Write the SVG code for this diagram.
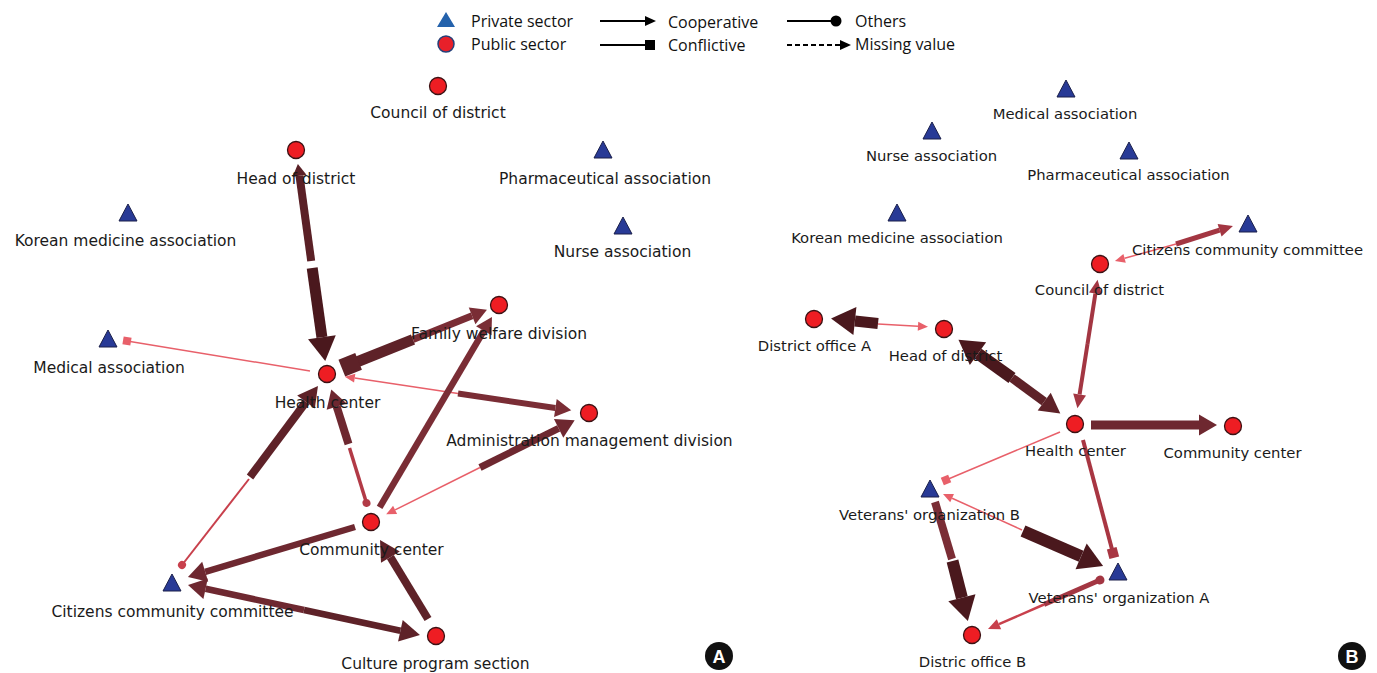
<svg xmlns="http://www.w3.org/2000/svg" width="1377" height="673" viewBox="0 0 1377 673">
<style>
.lbl{font-family:"DejaVu Sans",Verdana,sans-serif;font-size:15.5px;fill:#1a1a1a;text-anchor:middle}
.lblb{font-family:"DejaVu Sans",Verdana,sans-serif;font-size:14.8px;fill:#1a1a1a;text-anchor:middle}
.leg{font-family:"Open Sans","Noto Sans",sans-serif;font-size:16px;fill:#111}
.pub{fill:#ee1d23;stroke:#3b1214;stroke-width:1.3}
.pri{fill:#283a96;stroke:#1a1f4a;stroke-width:1}
.badge{fill:#111}
.badget{font-family:"Liberation Sans",Arial,sans-serif;font-size:18px;font-weight:bold;fill:#fff;text-anchor:middle}
line{fill:none}
.dk{stroke:#4a181d}
.m1{stroke:#5e2228}
.m2{stroke:#6e2830}
.m3{stroke:#7a2d35}
.rd{stroke:#a33642}
.r2{stroke:#c8404c}
.pk{stroke:#e8606a;stroke-width:1.5}
</style>
<defs>
<marker id="aDk" markerUnits="userSpaceOnUse" markerWidth="24" markerHeight="28" refX="0" refY="14" orient="auto" overflow="visible"><path d="M0,0 L24,14 L0,28 z" fill="#4a181d"/></marker>
<marker id="aDs" markerUnits="userSpaceOnUse" markerWidth="12" markerHeight="14" refX="0" refY="7" orient="auto" overflow="visible"><path d="M0,0 L12,7 L0,14 z" fill="#5a2026"/></marker>
<marker id="aM1" markerUnits="userSpaceOnUse" markerWidth="20" markerHeight="22" refX="0" refY="11" orient="auto" overflow="visible"><path d="M0,0 L20,11 L0,22 z" fill="#5e2228"/></marker>
<marker id="aM2" markerUnits="userSpaceOnUse" markerWidth="18" markerHeight="21" refX="0" refY="10.5" orient="auto" overflow="visible"><path d="M0,0 L18,10.5 L0,21 z" fill="#6e2830"/></marker>
<marker id="aM3" markerUnits="userSpaceOnUse" markerWidth="16" markerHeight="18" refX="0" refY="9" orient="auto" overflow="visible"><path d="M0,0 L16,9 L0,18 z" fill="#7a2d35"/></marker>
<marker id="aR" markerUnits="userSpaceOnUse" markerWidth="14" markerHeight="13" refX="0" refY="6.5" orient="auto" overflow="visible"><path d="M0,0 L14,6.5 L0,13 z" fill="#a33642"/></marker>
<marker id="aR2" markerUnits="userSpaceOnUse" markerWidth="12" markerHeight="11" refX="0" refY="5.5" orient="auto" overflow="visible"><path d="M0,0 L12,5.5 L0,11 z" fill="#c8404c"/></marker>
<marker id="aP" markerUnits="userSpaceOnUse" markerWidth="10" markerHeight="9" refX="0" refY="4.5" orient="auto" overflow="visible"><path d="M0,0 L10,4.5 L0,9 z" fill="#e8606a"/></marker>
<marker id="sqM" markerUnits="userSpaceOnUse" markerWidth="18" markerHeight="18" refX="9" refY="9" orient="auto" overflow="visible"><rect x="0" y="0" width="18" height="18" fill="#5e2228"/></marker>
<marker id="sqP" markerUnits="userSpaceOnUse" markerWidth="8" markerHeight="8" refX="4" refY="4" orient="auto" overflow="visible"><rect x="0" y="0" width="8" height="8" fill="#e8606a"/></marker>
<marker id="sqR" markerUnits="userSpaceOnUse" markerWidth="10" markerHeight="10" refX="5" refY="5" orient="auto" overflow="visible"><rect x="0" y="0" width="10" height="10" fill="#a83642"/></marker>
<marker id="dR" markerUnits="userSpaceOnUse" markerWidth="10" markerHeight="10" refX="5" refY="5" orient="auto" overflow="visible"><circle cx="5" cy="5" r="4.5" fill="#a33642"/></marker>
<marker id="dR2" markerUnits="userSpaceOnUse" markerWidth="8" markerHeight="8" refX="4" refY="4" orient="auto" overflow="visible"><circle cx="4" cy="4" r="4" fill="#c8404c"/></marker>
<marker id="dR3" markerUnits="userSpaceOnUse" markerWidth="8" markerHeight="8" refX="4" refY="4" orient="auto" overflow="visible"><circle cx="4" cy="4" r="4" fill="#b23a46"/></marker>
<marker id="lA" markerUnits="userSpaceOnUse" markerWidth="11" markerHeight="10" refX="0" refY="5" orient="auto" overflow="visible"><path d="M0,0 L11,5 L0,10 z" fill="#000"/></marker>
<marker id="lS" markerUnits="userSpaceOnUse" markerWidth="10" markerHeight="10" refX="5" refY="5" orient="auto" overflow="visible"><rect x="0" y="0" width="10" height="10" fill="#000"/></marker>
<marker id="lD" markerUnits="userSpaceOnUse" markerWidth="11" markerHeight="11" refX="5.5" refY="5.5" orient="auto" overflow="visible"><circle cx="5.5" cy="5.5" r="5.5" fill="#000"/></marker>
</defs>
<rect width="1377" height="673" fill="#fff"/>

<g id="legend">
<path d="M446,12 L455,27 L437,27 Z" fill="#2462ac"/>
<text class="leg" x="471" y="27">Private sector</text>
<circle cx="446" cy="44" r="8" fill="#e8202a" stroke="#24407a" stroke-width="1.5"/>
<text class="leg" x="471" y="50">Public sector</text>
<line x1="600" y1="21" x2="645" y2="21" stroke="#000" stroke-width="2" marker-end="url(#lA)"/>
<text class="leg" x="668" y="28">Cooperative</text>
<line x1="600" y1="45" x2="650" y2="45" stroke="#000" stroke-width="2" marker-end="url(#lS)"/>
<text class="leg" x="668" y="51">Conflictive</text>
<line x1="787" y1="21" x2="836" y2="21" stroke="#000" stroke-width="2" marker-end="url(#lD)"/>
<text class="leg" x="855" y="27">Others</text>
<line x1="787" y1="45" x2="840" y2="45" stroke="#000" stroke-width="2" stroke-dasharray="5,3" marker-end="url(#lA)"/>
<text class="leg" x="855" y="50">Missing value</text>
</g>

<g id="connectors">
<!-- Panel A -->
<line class="dk" x1="312.2" y1="268" x2="321.9" y2="337.2" stroke-width="11" marker-end="url(#aDk)"/>
<line x1="311.2" y1="261" x2="299.5" y2="175.8" stroke="#5a2026" stroke-width="8" marker-end="url(#aDs)"/>
<line class="m1" x1="413" y1="339.5" x2="350.2" y2="364.7" stroke-width="11" marker-end="url(#sqM)"/>
<line class="m3" x1="413" y1="339.5" x2="472.1" y2="315.8" stroke-width="7" marker-end="url(#aM3)"/>
<line class="pk" x1="458" y1="393.5" x2="354.7" y2="378.1" marker-end="url(#aP)"/>
<line class="m3" x1="458" y1="393.5" x2="555.4" y2="408" stroke-width="6" marker-end="url(#aM3)"/>
<line class="pk" x1="310" y1="371" x2="127" y2="341" marker-end="url(#sqP)"/>
<line class="m2" x1="348.5" y1="444" x2="336.7" y2="406.6" stroke-width="8" marker-end="url(#aM2)"/>
<line x1="349.5" y1="448" x2="366.5" y2="503" stroke="#b23a46" stroke-width="3.5" marker-end="url(#dR3)"/>
<line class="m3" x1="379.6" y1="507.4" x2="483.8" y2="330.8" stroke-width="6.5" marker-end="url(#aM3)"/>
<line class="m2" x1="480" y1="467.5" x2="558.6" y2="428.3" stroke-width="7" marker-end="url(#aM2)"/>
<line class="pk" x1="480" y1="467.5" x2="395.1" y2="509.9" marker-end="url(#aP)"/>
<line class="m1" x1="250" y1="477" x2="306" y2="402" stroke-width="8" marker-end="url(#aM1)"/>
<line class="r2" x1="249" y1="479" x2="182" y2="565" stroke-width="2" marker-end="url(#dR2)"/>
<line class="m2" x1="355" y1="527" x2="205.2" y2="571.8" stroke-width="6.5" marker-end="url(#aM2)"/>
<line class="m2" x1="304" y1="610" x2="205.6" y2="588.8" stroke-width="6.5" marker-end="url(#aM2)"/>
<line class="m1" x1="304" y1="610" x2="400.4" y2="630.8" stroke-width="6.5" marker-end="url(#aM1)"/>
<line class="m1" x1="428" y1="619" x2="390.4" y2="557.1" stroke-width="8" marker-end="url(#aM1)"/>
<!-- Panel B -->
<line class="dk" x1="878" y1="323.5" x2="854.9" y2="321" stroke-width="11" marker-end="url(#aDk)"/>
<line class="pk" x1="878" y1="324" x2="918" y2="326.3" marker-end="url(#aP)"/>
<line class="dk" x1="1012" y1="378" x2="978" y2="353.7" stroke-width="12" marker-end="url(#aDk)"/>
<line class="m1" x1="1012" y1="378" x2="1044.2" y2="401.7" stroke-width="9" marker-end="url(#aM1)"/>
<line class="rd" x1="1087.5" y1="344" x2="1095.4" y2="293.6" stroke-width="4" marker-end="url(#aR)"/>
<line class="rd" x1="1087.5" y1="344" x2="1079.6" y2="394.4" stroke-width="4" marker-end="url(#aR)"/>
<line class="rd" x1="1176" y1="244" x2="1219.6" y2="230.2" stroke-width="5" marker-end="url(#aR)"/>
<line class="pk" x1="1176" y1="244" x2="1124.6" y2="258.3" marker-end="url(#aP)"/>
<line class="m2" x1="1091" y1="425" x2="1199" y2="425" stroke-width="9" marker-end="url(#aM2)"/>
<line class="pk" x1="1060" y1="432" x2="946" y2="480" marker-end="url(#sqP)"/>
<line x1="1083" y1="440" x2="1113" y2="553" stroke="#a83642" stroke-width="4" marker-end="url(#sqR)"/>
<line class="pk" x1="1022" y1="530" x2="952.1" y2="498.2" marker-end="url(#aP)"/>
<line class="dk" x1="1023" y1="531" x2="1081.1" y2="556.3" stroke-width="12" marker-end="url(#aDk)"/>
<line class="m3" x1="952" y1="559" x2="935" y2="502" stroke-width="8"/>
<line class="dk" x1="952.5" y1="561" x2="961.9" y2="597.8" stroke-width="12" marker-end="url(#aDk)"/>
<line class="rd" x1="1044" y1="604.5" x2="1100" y2="580" stroke-width="5" marker-end="url(#dR)"/>
<line class="r2" x1="1044" y1="604.5" x2="999" y2="624.2" stroke-width="2.5" marker-end="url(#aR2)"/>
</g>

<!-- Panel A nodes -->
<g id="A-council-of-district"><circle class="pub" cx="438" cy="86" r="8.5"/><text class="lbl" x="438" y="118">Council of district</text></g>
<g id="A-head-of-district"><circle class="pub" cx="296" cy="150" r="8.5"/><text class="lbl" x="296" y="184">Head of district</text></g>
<g id="A-pharmaceutical-association"><path class="pri" d="M603,141 L612,158 L594,158 Z"/><text class="lbl" x="605" y="184">Pharmaceutical association</text></g>
<g id="A-korean-medicine-association"><path class="pri" d="M128,204 L137,221 L119,221 Z"/><text class="lbl" x="125.5" y="246">Korean medicine association</text></g>
<g id="A-nurse-association"><path class="pri" d="M623,217 L632,234 L614,234 Z"/><text class="lbl" x="622.5" y="257">Nurse association</text></g>
<g id="A-family-welfare-division"><circle class="pub" cx="499" cy="305" r="8.5"/><text class="lbl" x="499" y="339">Family welfare division</text></g>
<g id="A-medical-association"><path class="pri" d="M108,330 L117,347 L99,347 Z"/><text class="lbl" x="109" y="373">Medical association</text></g>
<g id="A-health-center"><circle class="pub" cx="327" cy="374" r="8.5"/><text class="lbl" x="327.5" y="408">Health center</text></g>
<g id="A-administration-management-division"><circle class="pub" cx="589" cy="413" r="8.5"/><text class="lbl" x="589.5" y="446">Administration management division</text></g>
<g id="A-community-center"><circle class="pub" cx="371" cy="522" r="8.5"/><text class="lbl" x="371.5" y="555">Community center</text></g>
<g id="A-citizens-community-committee"><path class="pri" d="M172,574 L181,591 L163,591 Z"/><text class="lbl" x="172.5" y="617">Citizens community committee</text></g>
<g id="A-culture-program-section"><circle class="pub" cx="436" cy="636" r="8.5"/><text class="lbl" x="435.5" y="669">Culture program section</text></g>
<g id="badge-A"><circle class="badge" cx="719" cy="656" r="14"/><text class="badget" x="719" y="662.5">A</text></g>

<!-- Panel B nodes -->
<g id="B-medical-association"><path class="pri" d="M1066,80 L1075,97 L1057,97 Z"/><text class="lblb" x="1065" y="119">Medical association</text></g>
<g id="B-nurse-association"><path class="pri" d="M932,122 L941,139 L923,139 Z"/><text class="lblb" x="931.5" y="161">Nurse association</text></g>
<g id="B-pharmaceutical-association"><path class="pri" d="M1129,142 L1138,159 L1120,159 Z"/><text class="lblb" x="1128.5" y="180">Pharmaceutical association</text></g>
<g id="B-korean-medicine-association"><path class="pri" d="M897,204 L906,221 L888,221 Z"/><text class="lblb" x="897" y="243">Korean medicine association</text></g>
<g id="B-citizens-community-committee"><path class="pri" d="M1248,215 L1257,232 L1239,232 Z"/><text class="lblb" x="1247.5" y="255">Citizens community committee</text></g>
<g id="B-council-of-district"><circle class="pub" cx="1100" cy="264" r="8.5"/><text class="lblb" x="1099.5" y="295">Council of district</text></g>
<g id="B-district-office-A"><circle class="pub" cx="814" cy="319" r="8.5"/><text class="lblb" x="814.5" y="351">District office A</text></g>
<g id="B-head-of-district"><circle class="pub" cx="944" cy="329" r="8.5"/><text class="lblb" x="945.5" y="361">Head of district</text></g>
<g id="B-health-center"><circle class="pub" cx="1075" cy="424" r="8.5"/><text class="lblb" x="1075.5" y="456">Health center</text></g>
<g id="B-community-center"><circle class="pub" cx="1233" cy="426" r="8.5"/><text class="lblb" x="1232.5" y="458">Community center</text></g>
<g id="B-veterans-organization-B"><path class="pri" d="M930,480 L939,497 L921,497 Z"/><text class="lblb" x="929.5" y="520">Veterans' organization B</text></g>
<g id="B-veterans-organization-A"><path class="pri" d="M1118,563 L1127,580 L1109,580 Z"/><text class="lblb" x="1119" y="603">Veterans' organization A</text></g>
<g id="B-distric-office-B"><circle class="pub" cx="972" cy="635" r="8.5"/><text class="lblb" x="972.5" y="667">Distric office B</text></g>
<g id="badge-B"><circle class="badge" cx="1352" cy="656" r="14"/><text class="badget" x="1352" y="662.5">B</text></g>
</svg>
